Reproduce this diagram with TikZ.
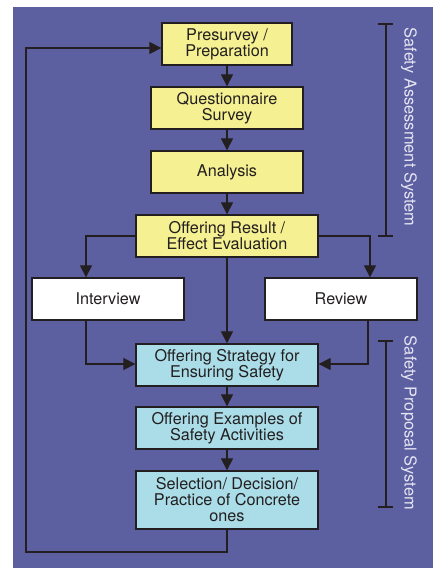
\documentclass[tikz,border=0pt]{standalone}
\usepackage{fontspec}
\setmainfont{TeX Gyre Heros}
\usetikzlibrary{arrows.meta}
\definecolor{bgc}{RGB}{92,95,160}
\definecolor{ylw}{RGB}{245,240,145}
\definecolor{cyn}{RGB}{170,221,232}
\definecolor{ink}{RGB}{35,31,32}
\definecolor{lbl}{RGB}{228,228,242}
\begin{document}
\begin{tikzpicture}[x=1pt,y=-1pt,
  box/.style={draw=ink,line width=1.3pt,text=ink,align=center,inner sep=0pt,
    font=\fontsize{16.2}{16}\selectfont,minimum height=42pt},
  ybox/.style={box,fill=ylw},
  cbox/.style={box,fill=cyn},
  wbox/.style={box,fill=white,minimum width=152pt},
  arr/.style={draw=ink,line width=1.2pt,-{Triangle[length=12pt,width=12pt]}},
  ln/.style={draw=ink,line width=1.2pt},
  brk/.style={draw=ink,line width=1.2pt},
  side/.style={text=lbl,rotate=-90,font=\fontsize{16.4}{16}\selectfont,inner sep=0pt}]
\useasboundingbox (0,0) rectangle (433,568);
\fill[white] (0,0) rectangle (433,568);
\fill[bgc] (13,7) rectangle (433,568);

\node[ybox,minimum width=130pt] (pre) at (227,44) {Presurvey /\\Preparation};
\node[ybox,minimum width=152pt] (que) at (227,108) {Questionnaire\\Survey};
\node[ybox,minimum width=152pt] (ana) at (227,172) {Analysis};
\node[ybox,minimum width=182pt] (res) at (227,236) {Offering Result /\\Effect Evaluation};
\node[wbox] (int) at (108,299) {Interview};
\node[wbox] (rev) at (341,299) {Review};
\node[cbox,minimum width=182pt] (str) at (227,365) {Offering Strategy for\\Ensuring Safety};
\node[cbox,minimum width=182pt] (exa) at (227,428) {Offering Examples of\\Safety Activities};
\node[cbox,minimum width=182pt,minimum height=58pt] (sel) at (227,500) {Selection/ Decision/\\Practice of Concrete\\ones};

\coordinate (il) at (86,0);
\coordinate (ir) at (370,0);
\coordinate (ir2) at (368,0);
\coordinate (fb) at (26,552);

\draw[arr] (pre.south) -- (que.north);
\draw[arr] (que.south) -- (ana.north);
\draw[arr] (ana.south) -- (res.north);
\draw[arr] (res.west) -| (il |- int.north);
\draw[arr] (res.east) -| (ir |- rev.north);
\draw[arr] (res.south) -- (str.north);
\draw[arr] (il |- int.south) |- ([yshift=1pt]str.west);
\draw[arr] (ir2 |- rev.south) |- ([yshift=1pt]str.east);
\draw[arr] (str.south) -- (exa.north);
\draw[arr] (exa.south) -- (sel.north);
\draw[arr] (sel.south) |- (fb) |- ([yshift=-4pt]pre.west);

\draw[brk] (386,24) -- (386,236);
\draw[brk] (378,24) -- (393,24);
\draw[brk] (378,236) -- (393,236);
\draw[brk] (386,341) -- (386,507);
\draw[brk] (378,341) -- (393,341);
\draw[brk] (378,507) -- (393,507);

\node[side] (sas) at (409,127) {Safety Assessment System};
\node[side] (sps) at (409,423) {Safety Proposal System};
\end{tikzpicture}
\end{document}
